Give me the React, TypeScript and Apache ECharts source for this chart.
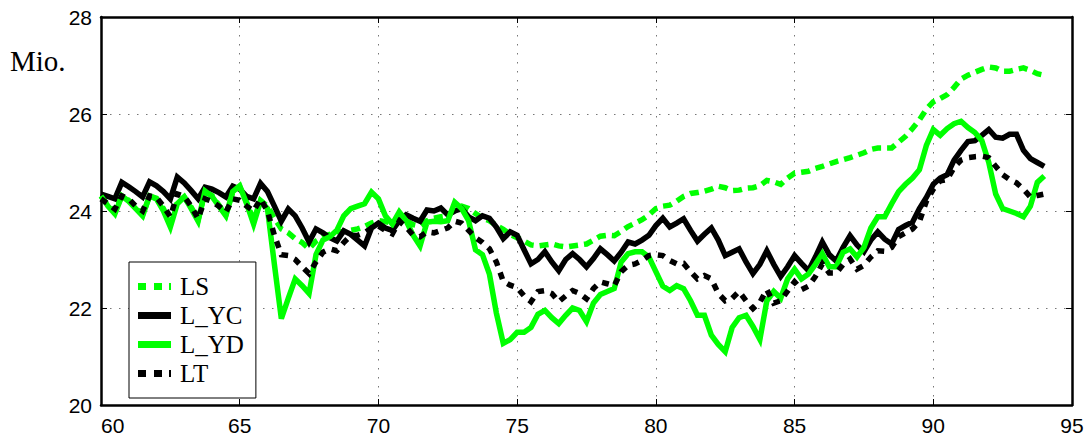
import React, { useEffect, useRef } from "react";
import * as echarts from "echarts";

// Quarterly observations, 1960Q1 .. 1994Q1 (years shown as 60..94)
const START_YEAR = 60;
const STEP = 0.25;
const SERIES_NAMES = ["LS", "L_YC", "L_YD", "LT"];
const X_TICKS = [60, 65, 70, 75, 80, 85, 90, 95];
const Y_TICKS = [20, 22, 24, 26, 28];

const LS = [
  24.31, 24.12, 23.98, 24.31, 24.22, 24.08, 23.92, 24.31, 24.26, 24.05, 23.75, 24.18,
  24.29, 24.08, 23.82, 24.40, 24.32, 24.12, 23.92, 24.40, 24.50, 24.18, 23.80, 24.22,
  24.10, 23.85, 23.63, 23.55, 23.43, 23.35, 23.22, 23.38, 23.47, 23.52, 23.57, 23.58,
  23.60, 23.63, 23.68, 23.75, 23.80, 23.78, 23.75, 23.85, 23.80, 23.72, 23.69, 23.80,
  23.85, 23.88, 23.90, 24.05, 24.10, 24.05, 23.95, 23.85, 23.80, 23.70, 23.62, 23.52,
  23.45, 23.38, 23.30, 23.28, 23.30, 23.32, 23.28, 23.26, 23.28, 23.30, 23.32, 23.40,
  23.48, 23.50, 23.49, 23.58, 23.68, 23.75, 23.82, 23.92, 24.05, 24.10, 24.12, 24.20,
  24.30, 24.36, 24.38, 24.41, 24.45, 24.51, 24.48, 24.42, 24.43, 24.47, 24.48, 24.52,
  24.63, 24.60, 24.55, 24.68, 24.78, 24.80, 24.82, 24.88, 24.92, 24.97, 25.02, 25.06,
  25.10, 25.15, 25.20, 25.27, 25.30, 25.30, 25.30, 25.42, 25.54, 25.70, 25.88, 26.10,
  26.25, 26.32, 26.40, 26.55, 26.72, 26.80, 26.86, 26.92, 26.97, 26.95, 26.88, 26.88,
  26.92, 26.95, 26.90, 26.83, 26.80,
];

const L_YC = [
  24.35, 24.30, 24.25, 24.59, 24.50, 24.40, 24.29, 24.60, 24.52, 24.40, 24.25, 24.70,
  24.58, 24.42, 24.25, 24.49, 24.45, 24.38, 24.29, 24.51, 24.45, 24.30, 24.25, 24.57,
  24.40, 24.10, 23.79, 24.04, 23.90, 23.65, 23.36, 23.63, 23.55, 23.45, 23.38, 23.59,
  23.52, 23.40, 23.28, 23.65, 23.75, 23.65, 23.60, 23.80, 23.92, 23.85, 23.79, 24.02,
  24.00, 24.06, 23.92, 24.00, 24.05, 23.88, 23.80, 23.90, 23.85, 23.67, 23.43, 23.57,
  23.50, 23.20, 22.91, 23.00, 23.16, 22.95, 22.77, 23.00, 23.12, 23.00, 22.85, 23.02,
  23.22, 23.10, 22.97, 23.15, 23.36, 23.32, 23.40, 23.50, 23.70, 23.85, 23.67, 23.75,
  23.84, 23.60, 23.38, 23.52, 23.65, 23.40, 23.08, 23.15, 23.22, 22.95, 22.71, 22.90,
  23.18, 22.90, 22.65, 22.85, 23.08, 22.92, 22.77, 23.05, 23.36, 23.10, 22.97, 23.25,
  23.49, 23.30, 23.16, 23.40, 23.57, 23.42, 23.32, 23.62, 23.70, 23.77, 24.05, 24.28,
  24.55, 24.68, 24.75, 25.05, 25.25, 25.43, 25.45, 25.56, 25.68, 25.52, 25.50, 25.58,
  25.58, 25.25, 25.08, 25.00, 24.92,
];

const L_YD = [
  24.31, 24.10, 23.94, 24.31, 24.20, 24.05, 23.90, 24.31, 24.25, 24.00, 23.67, 24.15,
  24.29, 24.05, 23.79, 24.41, 24.30, 24.10, 23.90, 24.40, 24.52, 24.15, 23.73, 24.20,
  24.05, 22.90, 21.78, 22.20, 22.60, 22.46, 22.30, 23.10, 23.40, 23.47, 23.60, 23.90,
  24.05, 24.10, 24.15, 24.39, 24.25, 23.90, 23.73, 23.98, 23.80, 23.50, 23.28, 23.77,
  23.79, 23.78, 23.80, 24.18, 24.05, 23.80, 23.20, 23.10, 22.70, 21.90, 21.27, 21.35,
  21.50, 21.50, 21.60, 21.87, 21.95, 21.80, 21.68, 21.85, 22.00, 21.95, 21.72, 22.10,
  22.28, 22.34, 22.40, 22.95, 23.12, 23.16, 23.16, 23.05, 22.75, 22.45, 22.36, 22.46,
  22.40, 22.15, 21.85, 21.85, 21.44, 21.25, 21.10, 21.60, 21.80, 21.85, 21.62, 21.35,
  22.15, 22.34, 22.20, 22.60, 22.80, 22.60, 22.70, 22.90, 23.12, 22.85, 22.85, 23.15,
  23.22, 23.05, 23.25, 23.65, 23.88, 23.88, 24.15, 24.40, 24.55, 24.68, 24.85, 25.35,
  25.68, 25.56, 25.70, 25.80, 25.85, 25.72, 25.62, 25.45, 25.00, 24.35, 24.05, 24.00,
  23.95, 23.88, 24.10, 24.59, 24.72,
];

const LT = [
  24.25, 24.15, 24.04, 24.31, 24.25, 24.10, 24.00, 24.31, 24.28, 24.10, 23.88, 24.35,
  24.30, 24.10, 23.84, 24.25, 24.20, 24.10, 23.98, 24.25, 24.22, 24.10, 24.00, 24.25,
  24.00, 23.50, 23.10, 23.08, 23.00, 22.85, 22.71, 22.95, 23.15, 23.22, 23.18, 23.35,
  23.49, 23.50, 23.55, 23.65, 23.69, 23.60, 23.53, 23.79, 23.67, 23.50, 23.47, 23.57,
  23.55, 23.60, 23.65, 23.79, 23.75, 23.60, 23.45, 23.35, 23.22, 22.95, 22.55, 22.47,
  22.42, 22.25, 22.13, 22.34, 22.36, 22.30, 22.13, 22.25, 22.36, 22.30, 22.19, 22.40,
  22.54, 22.50, 22.46, 22.75, 22.88, 22.91, 22.98, 23.08, 23.10, 23.08, 22.98, 22.91,
  22.92, 22.75, 22.60, 22.67, 22.60, 22.30, 22.15, 22.20, 22.34, 22.15, 21.99, 22.12,
  22.38, 22.10, 22.15, 22.35, 22.54, 22.38, 22.45, 22.65, 22.91, 22.72, 22.72, 22.90,
  23.01, 22.80, 22.88, 23.05, 23.18, 23.17, 23.25, 23.47, 23.55, 23.63, 23.78, 24.20,
  24.45, 24.62, 24.65, 24.90, 25.05, 25.10, 25.12, 25.13, 25.10, 24.92, 24.75, 24.65,
  24.58, 24.45, 24.29, 24.32, 24.35,
];

const GREEN = "#00ff00";
const BLACK = "#000000";

// legend sample shapes (33 x 7 box)
const DASH_ICON = "path://M0 0H8V7H0Z M16 0H24V7H16Z M31 0H33V7H31Z";
const SOLID_ICON = "path://M0 0H33V7H0Z";

function toPairs(values: number[]) {
  return values.map((v, i) => [START_YEAR + i * STEP, v]);
}

export default function App() {
  const ref = useRef<HTMLDivElement>(null);

  useEffect(() => {
    document.body.style.margin = "0";
    if (!ref.current) return;
    const chart = echarts.init(ref.current, null, { renderer: "svg" });

    const tickFont = { fontFamily: "Liberation Sans", fontSize: 21, color: "#000" };
    const grid = { left: 101, right: 16, top: 17, bottom: 28 };

    const mkSeries = (name: string, data: number[], color: string, dash: any, z: number) => ({
      name,
      type: "line",
      data: toPairs(data),
      symbol: "none",
      showSymbol: false,
      z,
      lineStyle: { color, width: 5.5, type: dash, cap: "butt", join: "miter" },
      itemStyle: { color },
    });

    const axisLineStyle = { color: "#000", width: 2.5 };
    const tick = { show: true, inside: true, length: 6, lineStyle: { color: "#000", width: 1 } };
    const split = { show: true, lineStyle: { color: "#777", width: 1, type: [1.5, 7.5] } };

    chart.setOption({
      animation: false,
      backgroundColor: "#fff",
      grid,
      xAxis: [
        {
          type: "value",
          min: X_TICKS[0],
          max: X_TICKS[X_TICKS.length - 1],
          interval: 5,
          position: "bottom",
          axisLine: { show: true, onZero: false, lineStyle: axisLineStyle },
          axisTick: tick,
          axisLabel: { ...tickFont, margin: 10, alignMinLabel: "left" },
          splitLine: split,
        },
        {
          type: "value",
          min: X_TICKS[0],
          max: X_TICKS[X_TICKS.length - 1],
          interval: 5,
          position: "top",
          axisLine: { show: true, onZero: false, lineStyle: axisLineStyle },
          axisTick: tick,
          axisLabel: { show: false },
          splitLine: { show: false },
        },
      ],
      yAxis: [
        {
          type: "value",
          min: Y_TICKS[0],
          max: Y_TICKS[Y_TICKS.length - 1],
          interval: 2,
          position: "left",
          axisLine: { show: true, onZero: false, lineStyle: axisLineStyle },
          axisTick: tick,
          axisLabel: { ...tickFont, margin: 9 },
          splitLine: split,
        },
        {
          type: "value",
          min: Y_TICKS[0],
          max: Y_TICKS[Y_TICKS.length - 1],
          interval: 2,
          position: "right",
          axisLine: { show: true, onZero: false, lineStyle: axisLineStyle },
          axisTick: tick,
          axisLabel: { show: false },
          splitLine: { show: false },
        },
      ],
      legend: {
        orient: "vertical",
        left: 129,
        top: 262,
        itemWidth: 33,
        itemHeight: 7,
        itemGap: 0,
        padding: [10, 12, 10, 9],
        borderColor: "#000",
        borderWidth: 1,
        backgroundColor: "#fff",
        itemStyle: { borderWidth: 0 },
        data: [
          { name: SERIES_NAMES[0], icon: DASH_ICON },
          { name: SERIES_NAMES[1], icon: SOLID_ICON },
          { name: SERIES_NAMES[2], icon: SOLID_ICON },
          { name: SERIES_NAMES[3], icon: DASH_ICON },
        ],
        textStyle: {
          fontFamily: "'Liberation Serif', 'Times New Roman', serif",
          fontSize: 25,
          color: "#000",
          lineHeight: 29,
          padding: [0, 0, 0, 4],
        },
      },
      graphic: [
        {
          type: "text",
          left: 10,
          top: 46,
          style: {
            text: "Mio.",
            fontFamily: "'Liberation Serif', 'Times New Roman', serif",
            fontSize: 29,
            fill: "#000",
          },
        },
      ],
      series: [
        mkSeries(SERIES_NAMES[0], LS, GREEN, [9, 6], 2),
        mkSeries(SERIES_NAMES[1], L_YC, BLACK, "solid", 3),
        mkSeries(SERIES_NAMES[2], L_YD, GREEN, "solid", 4),
        mkSeries(SERIES_NAMES[3], LT, BLACK, [7, 7], 5),
      ],
    });

    return () => chart.dispose();
  }, []);

  return <div ref={ref} style={{ width: 1088, height: 436 }} />;
}
